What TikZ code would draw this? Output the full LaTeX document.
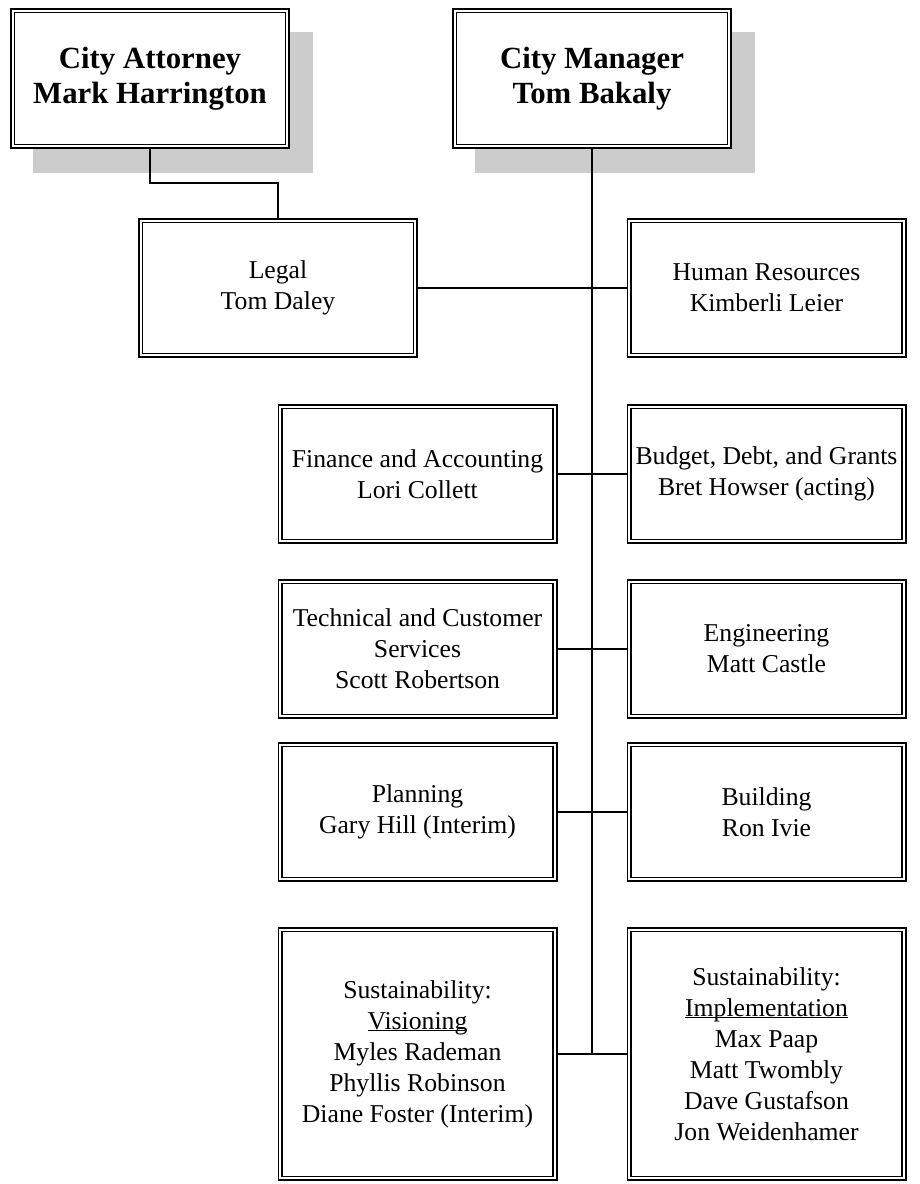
\documentclass[tikz,border=0pt]{standalone}
\usepackage{fontspec}
\setmainfont{Liberation Serif}
\usetikzlibrary{calc,backgrounds}
\definecolor{shadegray}{gray}{0.8}
\newcommand{\uword}[1]{\underline{\smash{#1}}}

\begin{document}
\begin{tikzpicture}[x=1pt,y=-1pt,
    unit/.style={draw,double,double distance=2.2pt,line width=1.6pt,fill=white,
      minimum width=274.6pt,minimum height=134.6pt,outer sep=2.7pt,inner sep=0pt,
      align=center,font=\fontsize{25.7}{31}\selectfont},
    head/.style={unit,minimum height=135.6pt,font=\fontsize{30.8}{35}\selectfont\bfseries},
    link/.style={line width=1.3pt},
    trunk/.style={line width=2pt}]
    \useasboundingbox (0,0) rectangle (919,1184);
    \node[head] (att) at (150,78.5) {City Attorney\\Mark Harrington};
    \node[head] (cm) at (592,78.5) {City Manager\\Tom Bakaly};
    \node[unit] (legal) at (278,288) {Legal\\Tom Daley};
    \node[unit] (hr) at (766.5,288) {Human Resources\\Kimberli Leier};
    \node[unit] (fin) at (417.5,474) {Finance and Accounting\\Lori Collett};
    \node[unit] (bud) at (766.5,474) {Budget, Debt, and Grants\\Bret Howser (acting)};
    \node[unit] (tech) at (417.5,649) {Technical and Customer\\Services\\Scott Robertson};
    \node[unit] (eng) at (766.5,649) {Engineering\\Matt Castle};
    \node[unit] (plan) at (417.5,812) {Planning\\Gary Hill (Interim)};
    \node[unit] (bld) at (766.5,812) {Building\\Ron Ivie};
    \node[unit,minimum height=248.6pt] (vis) at (417.5,1054) {Sustainability:\\\uword{Visioning}\\Myles Rademan\\Phyllis Robinson\\Diane Foster (Interim)};
    \node[unit,minimum height=248.6pt] (imp) at (766.5,1054) {Sustainability:\\\uword{Implementation}\\Max Paap\\Matt Twombly\\Dave Gustafson\\Jon Weidenhamer};
    \begin{scope}[on background layer]
        \fill[shadegray] ($(att.north west)+(23,24)$) rectangle ($(att.south east)+(23,24)$);
        \fill[shadegray] ($(cm.north west)+(23,24)$) rectangle ($(cm.south east)+(23,24)$);
    \end{scope}
    \coordinate (trunkend) at (cm.south |- vis.east);
    \draw[trunk] (cm.south) -- (trunkend);
    \draw[link] (att.south) -- ++(0,34) -| (legal.north);
    \foreach \l/\r in {legal/hr,fin/bud,tech/eng,plan/bld,vis/imp}
        \draw[link] (\l.east) -- (\r.west);
\end{tikzpicture}
\end{document}
